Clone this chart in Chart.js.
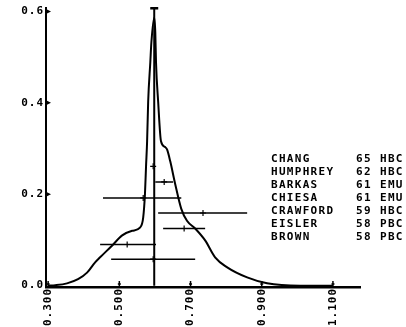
<!DOCTYPE html>
<html>
<head>
<meta charset="utf-8">
<script src="https://cdn.jsdelivr.net/npm/chart.js@4"></script>
<style>
  html, body { margin: 0; padding: 0; background: #fff; }
  #c { display: block; }
</style>
</head>
<body>
<canvas id="c" width="406" height="327"></canvas>
<script>
// resonance curve
const curveX = [0.300, 0.320, 0.353, 0.384, 0.410, 0.432, 0.446, 0.480, 0.508, 0.536, 0.558, 0.567, 0.572, 0.575, 0.578, 0.581, 0.587, 0.590, 0.598,
                0.601, 0.603, 0.609, 0.617, 0.629, 0.634, 0.643, 0.657, 0.674, 0.690, 0.713, 0.741, 0.769, 0.803, 0.859, 0.915, 1.008, 1.100];
const curveY = [0.000, 0.001, 0.005, 0.014, 0.029, 0.051, 0.062, 0.088, 0.110, 0.120, 0.127, 0.149, 0.201, 0.261, 0.316, 0.403, 0.489, 0.532, 0.587,
                0.554, 0.489, 0.403, 0.316, 0.303, 0.298, 0.272, 0.222, 0.168, 0.142, 0.125, 0.099, 0.062, 0.040, 0.018, 0.005, 0.000, 0.000];

// measurements with horizontal error bars
const measY   = [0.192, 0.227, 0.159, 0.125, 0.090, 0.058, 0.261];
const measMid = [0.567, 0.626, 0.735, 0.682, 0.522, 0.595, 0.595];
const measLo  = [0.454, 0.601, 0.609, 0.623, 0.446, 0.477, 0.595];
const measHi  = [0.674, 0.651, 0.859, 0.741, 0.603, 0.713, 0.595];

// vertical marker line
const markX = 0.598;
const markTop = 0.607;

const xTicks = [0.3, 0.5, 0.7, 0.9, 1.1];
const yTicks = [0.0, 0.2, 0.4, 0.6];

const names = ['CHANG', 'HUMPHREY', 'BARKAS', 'CHIESA', 'CRAWFORD', 'EISLER', 'BROWN'];
const years = ['65', '62', '61', '61', '59', '58', '58'];
const labs  = ['HBC', 'HBC', 'EMU', 'EMU', 'HBC', 'PBC', 'PBC'];

const FONT = '"DejaVu Sans Mono", monospace';

const datasets = [];
datasets.push({
  data: curveX.map((x, i) => ({ x: x, y: curveY[i] })),
  showLine: true, borderColor: '#000', borderWidth: 2, pointRadius: 0,
  cubicInterpolationMode: 'monotone', clip: false
});
measY.forEach((y, i) => {
  if (measLo[i] === measHi[i]) return;
  datasets.push({
    data: [{ x: measLo[i], y: y }, { x: measHi[i], y: y }],
    showLine: true, borderColor: '#000', borderWidth: 1.5, pointRadius: 0
  });
});
datasets.push({
  data: measMid.map((x, i) => ({ x: x, y: measY[i] })),
  showLine: false, pointStyle: 'cross', pointRadius: 3,
  borderColor: '#000', pointBorderWidth: 1.2
});
datasets.push({
  data: [{ x: markX, y: 0 }, { x: markX, y: markTop }],
  showLine: true, borderColor: '#000', borderWidth: 2,
  pointStyle: 'line', pointRadius: [0, 4], pointBorderWidth: 2.5, clip: false
});

// tick marks drawn on the inside of the axes + the text block on the right
const extras = {
  id: 'extras',
  beforeDraw(chart) {
    chart.ctx.letterSpacing = '1px';
  },
  afterDraw(chart) {
    const ctx = chart.ctx;
    const xs = chart.scales.x, ys = chart.scales.y;
    const y0 = chart.chartArea.bottom, x0 = chart.chartArea.left;
    ctx.save();
    ctx.strokeStyle = '#000';
    ctx.fillStyle = '#000';
    ctx.lineWidth = 1.5;
    xTicks.forEach(v => {
      const px = xs.getPixelForValue(v);
      ctx.beginPath();
      ctx.moveTo(px, y0); ctx.lineTo(px, y0 - 6);
      ctx.moveTo(px - 1.5, y0 - 3); ctx.lineTo(px + 1.5, y0 - 3);
      ctx.stroke();
    });
    yTicks.slice(1).forEach(v => {
      const py = ys.getPixelForValue(v);
      ctx.beginPath();
      ctx.moveTo(x0, py - 2.5); ctx.lineTo(x0 + 5, py); ctx.lineTo(x0, py + 2.5);
      ctx.closePath();
      ctx.fill();
    });
    ctx.font = 'bold 11px ' + FONT;
    ctx.letterSpacing = '1.3px';
    ctx.textBaseline = 'middle';
    ctx.textAlign = 'left';
    names.forEach((n, i) => {
      const py = 159 + i * 13;
      ctx.fillText(n, 271, py);
      ctx.fillText(years[i], 356, py);
      ctx.fillText(labs[i], 380, py);
    });
    ctx.restore();
    ctx.letterSpacing = '0px';
  }
};

new Chart(document.getElementById('c'), {
  type: 'scatter',
  data: { datasets: datasets },
  options: {
    responsive: false,
    animation: false,
    devicePixelRatio: 1,
    layout: { padding: { left: 0, right: 46, top: 5, bottom: 0 } },
    plugins: { legend: { display: false }, tooltip: { enabled: false } },
    elements: { line: { tension: 0 } },
    scales: {
      x: {
        type: 'linear', min: 0.294, max: 1.176,
        afterBuildTicks: s => { s.ticks = xTicks.map(v => ({ value: v })); },
        afterFit: s => { s.height = 40; },
        grid: { display: false, drawTicks: false },
        border: { display: true, color: '#000', width: 2.5 },
        ticks: {
          color: '#000', padding: 1, minRotation: 90, maxRotation: 90, autoSkip: false,
          font: { family: FONT, size: 11, weight: 'bold', lineHeight: 1 },
          callback: v => Number(v).toFixed(3)
        }
      },
      y: {
        type: 'linear', min: -0.003, max: 0.6087,
        afterBuildTicks: s => { s.ticks = yTicks.map(v => ({ value: v })); },
        afterFit: s => { s.width = 46; },
        grid: { display: false, drawTicks: false },
        border: { display: true, color: '#000', width: 2 },
        ticks: {
          color: '#000', padding: 2, autoSkip: false,
          font: { family: FONT, size: 11, weight: 'bold', lineHeight: 1 },
          callback: v => Number(v).toFixed(1)
        }
      }
    }
  },
  plugins: [extras]
});
</script>
</body>
</html>
